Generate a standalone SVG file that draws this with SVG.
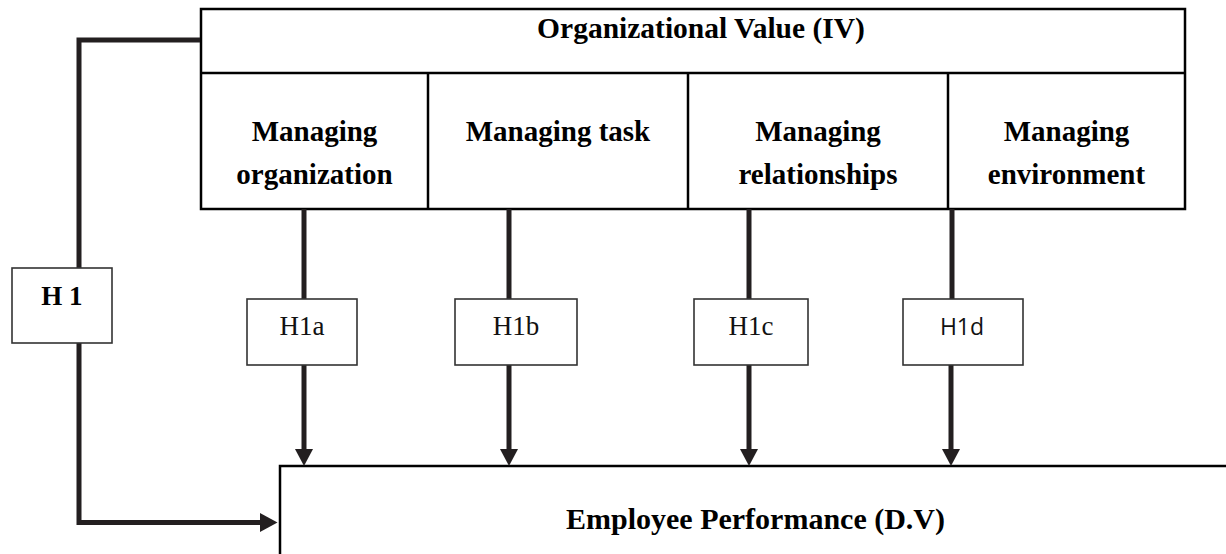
<svg xmlns="http://www.w3.org/2000/svg" width="1226" height="554" viewBox="0 0 1226 554">
<style>
.bg{fill:#ffffff}
.box{fill:#ffffff;stroke:#000000;stroke-width:2.5}
.div{fill:none;stroke:#000000;stroke-width:2.5}
.hbox{fill:#ffffff;stroke:#333333;stroke-width:1.6}
.conn{fill:none;stroke:#231f20;stroke-width:5}
.head{fill:#231f20}
.b{font-family:"Liberation Serif","Times New Roman",serif;font-weight:bold;font-size:29px;fill:#000;text-anchor:middle}
.r{font-family:"Liberation Serif","Times New Roman",serif;font-size:27px;fill:#111;text-anchor:middle}
.s{font-family:"Open Sans","Noto Sans",sans-serif;font-size:23px;fill:#111;text-anchor:middle}
</style>
<rect class="bg" x="0" y="0" width="1226" height="554"/>

<g id="iv">
<rect class="box" x="201" y="9" width="984" height="200"/>
<line class="div" x1="201" y1="73" x2="1185" y2="73"/>
<line class="div" x1="428" y1="73" x2="428" y2="209"/>
<line class="div" x1="688" y1="73" x2="688" y2="209"/>
<line class="div" x1="948" y1="73" x2="948" y2="209"/>
<text class="b" x="701" y="38" style="font-size:29.5px">Organizational Value (IV)</text>
</g>
<g id="managing-organization">
<text class="b" x="314.5" y="141">Managing</text>
<text class="b" x="314.5" y="184">organization</text>
</g>
<g id="managing-task">
<text class="b" x="558" y="141">Managing task</text>
</g>
<g id="managing-relationships">
<text class="b" x="818" y="141">Managing</text>
<text class="b" x="818" y="184">relationships</text>
</g>
<g id="managing-environment">
<text class="b" x="1066.5" y="141">Managing</text>
<text class="b" x="1066.5" y="184">environment</text>
</g>

<g id="dv">
<path class="div" d="M1228,466 H280 V556"/>
<text class="b" x="755.5" y="529" style="font-size:30px">Employee Performance (D.V)</text>
</g>

<g id="connectors">
<path class="conn" d="M200,40 H79 V522.5 H262"/>
<polygon class="head" points="260,513 277.5,522.5 260,532"/>
<line class="conn" x1="304" y1="209" x2="304" y2="299"/>
<line class="conn" x1="304" y1="365" x2="304" y2="451"/>
<polygon class="head" points="295,449 313,449 304,466"/>
<line class="conn" x1="509" y1="209" x2="509" y2="299"/>
<line class="conn" x1="509" y1="365" x2="509" y2="451"/>
<polygon class="head" points="500,449 518,449 509,466"/>
<line class="conn" x1="749" y1="209" x2="749" y2="299"/>
<line class="conn" x1="749" y1="365" x2="749" y2="451"/>
<polygon class="head" points="740,449 758,449 749,466"/>
<line class="conn" x1="952" y1="209" x2="952" y2="299"/>
<line class="conn" x1="951" y1="365" x2="951" y2="451"/>
<polygon class="head" points="942,449 960,449 951,466"/>
</g>

<g id="h1">
<rect class="hbox" x="12" y="268" width="100" height="75"/>
<text class="b" x="62" y="305" style="font-size:27px">H 1</text>
</g>
<g id="h1a">
<rect class="hbox" x="247" y="299" width="110" height="66"/>
<text class="r" x="302" y="335">H1a</text>
</g>
<g id="h1b">
<rect class="hbox" x="455" y="299" width="122" height="66"/>
<text class="r" x="516" y="335">H1b</text>
</g>
<g id="h1c">
<rect class="hbox" x="694" y="299" width="114" height="66"/>
<text class="r" x="751" y="335">H1c</text>
</g>
<g id="h1d">
<rect class="hbox" x="903" y="299" width="120" height="66"/>
<text class="s" x="962" y="335">H1d</text>
</g>
</svg>
